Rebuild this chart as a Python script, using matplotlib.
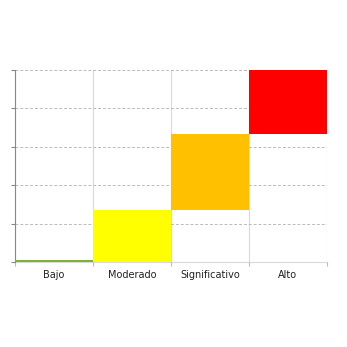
import matplotlib
matplotlib.use("Agg")
import matplotlib.pyplot as plt
import numpy as np

categories = ["Bajo", "Moderado", "Significativo", "Alto"]
bottoms = [0.0, 0.0, 1.35, 3.33]
heights = [0.05, 1.35, 1.98, 1.67]
colors = ["#7FB03A", "#FFFF00", "#FFC000", "#FF0000"]

fig = plt.figure(figsize=(3.47, 3.47), dpi=100)
ax = fig.add_axes([0.043, 0.245, 0.899, 0.553])
x = np.arange(len(categories))
ax.bar(x, heights, bottom=bottoms, width=1.0, color=colors, zorder=4)
ax.set_xlim(-0.5, 3.5)
ax.set_ylim(0, 5)

# boundaries
ax.set_xticks(np.arange(-0.5, 4.0, 1.0))
ax.set_xticklabels([])
ax.set_xticks(x, minor=True)
ax.set_xticklabels(categories, minor=True, fontsize=7, color="#222222")
ax.tick_params(axis="x", which="minor", length=0, pad=6)
ax.tick_params(axis="x", which="major", length=3, color="#BBBBBB")
ax.set_yticks(np.arange(0, 6, 1))
ax.set_yticklabels([])
ax.tick_params(axis="y", length=3, color="#888888")

ax.grid(axis="y", which="major", linestyle=(0, (3, 2)), color="#BBBBBB", linewidth=0.7, zorder=0)
ax.grid(axis="x", which="major", linestyle="-", color="#D9D9D9", linewidth=0.8, zorder=0)

for s in ["top", "right"]:
    ax.spines[s].set_visible(False)
ax.spines["left"].set_color("#888888")
ax.spines["bottom"].set_color("#D9D9D9")
ax.spines["bottom"].set_zorder(1)

fig.savefig("out.png", dpi=100)
